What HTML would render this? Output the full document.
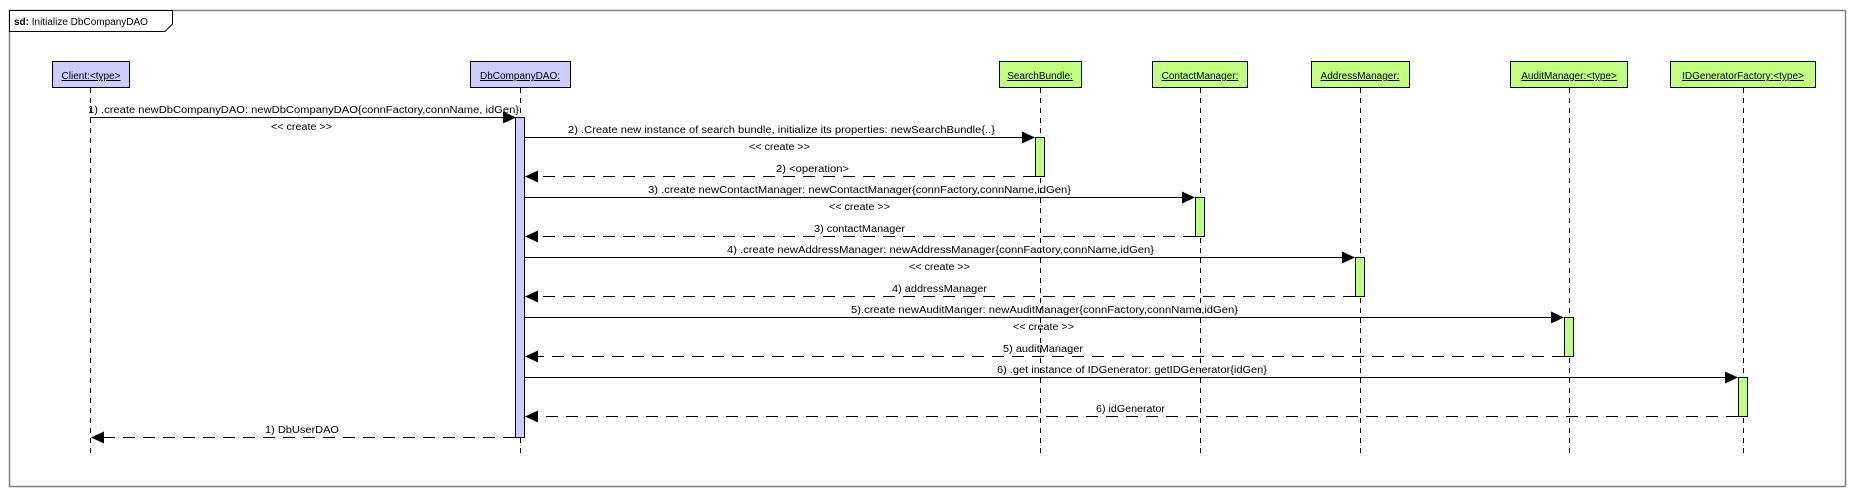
<!DOCTYPE html>
<html><head><meta charset="utf-8"><style>
html,body{margin:0;padding:0;background:#fff;}
svg{display:block;}
text{font-family:"Liberation Sans",Arial,sans-serif;font-size:10px;fill:#000;}
</style></head><body>
<svg width="1856" height="497" viewBox="0 0 1856 497" xmlns="http://www.w3.org/2000/svg">
<rect x="9.5" y="10.5" width="1836" height="476" fill="#fff" stroke="#808080" stroke-width="1.5"/>
<path d="M9.5 10.5 H172.5 V24 L165 31.5 H9.5 Z" fill="#fff" stroke="#000" stroke-width="1"/>
<text x="14" y="25"><tspan font-weight="bold">sd:</tspan> Initialize DbCompanyDAO</text>

<g stroke="#000" stroke-width="1" stroke-dasharray="5,5">
<line x1="90.5" y1="88" x2="90.5" y2="455"/>
<line x1="520.5" y1="88" x2="520.5" y2="455"/>
<line x1="1040.5" y1="88" x2="1040.5" y2="455"/>
<line x1="1200.5" y1="88" x2="1200.5" y2="455"/>
<line x1="1360.5" y1="88" x2="1360.5" y2="455"/>
<line x1="1569.5" y1="88" x2="1569.5" y2="455"/>
<line x1="1743.5" y1="88" x2="1743.5" y2="455"/>
</g>

<g stroke="#000" stroke-width="1">
<rect x="52.5" y="61.5" width="77" height="26" fill="#ccccff"/>
<rect x="470.5" y="61.5" width="100" height="26" fill="#ccccff"/>
<rect x="999.5" y="61.5" width="82" height="26" fill="#c0ff80"/>
<rect x="1152.5" y="61.5" width="95" height="26" fill="#c0ff80"/>
<rect x="1311.5" y="61.5" width="98" height="26" fill="#c0ff80"/>
<rect x="1510.5" y="61.5" width="117" height="26" fill="#c0ff80"/>
<rect x="1670.5" y="61.5" width="145" height="26" fill="#c0ff80"/>
</g>
<g text-anchor="middle">
<text x="91" y="79" text-decoration="underline">Client:&lt;type&gt;</text>
<text x="520" y="79" text-decoration="underline">DbCompanyDAO:</text>
<text x="1040" y="79" text-decoration="underline">SearchBundle:</text>
<text x="1200" y="79" text-decoration="underline">ContactManager:</text>
<text x="1360" y="79" text-decoration="underline">AddressManager:</text>
<text x="1569" y="79" text-decoration="underline">AuditManager:&lt;type&gt;</text>
<text x="1743" y="79" text-decoration="underline">IDGeneratorFactory:&lt;type&gt;</text>
</g>

<g stroke="#000" stroke-width="1">
<rect x="515.5" y="117.5" width="9" height="320" fill="#ccccff"/>
<rect x="1035.5" y="137.5" width="9" height="39" fill="#c0ff80"/>
<rect x="1195.5" y="197.5" width="9" height="39" fill="#c0ff80"/>
<rect x="1355.5" y="257.5" width="9" height="39" fill="#c0ff80"/>
<rect x="1564.5" y="317.5" width="9" height="39" fill="#c0ff80"/>
<rect x="1738.5" y="377.5" width="9" height="39" fill="#c0ff80"/>
</g>

<g stroke="#000" stroke-width="1">
<line x1="90" y1="117.5" x2="504" y2="117.5"/>
<line x1="525" y1="137.5" x2="1024" y2="137.5"/>
<line x1="525" y1="197.5" x2="1184" y2="197.5"/>
<line x1="525" y1="257.5" x2="1344" y2="257.5"/>
<line x1="525" y1="317.5" x2="1553" y2="317.5"/>
<line x1="525" y1="377.5" x2="1727" y2="377.5"/>
</g>
<g fill="#000">
<polygon points="503,111.5 516,117.5 503,123.5"/>
<polygon points="1022,131.5 1035,137.5 1022,143.5"/>
<polygon points="1182,191.5 1195,197.5 1182,203.5"/>
<polygon points="1342,251.5 1355,257.5 1342,263.5"/>
<polygon points="1551,311.5 1564,317.5 1551,323.5"/>
<polygon points="1725,371.5 1738,377.5 1725,383.5"/>
</g>

<g stroke="#000" stroke-width="1" stroke-dasharray="12,8">
<line x1="1035" y1="176.5" x2="537" y2="176.5"/>
<line x1="1195" y1="236.5" x2="537" y2="236.5"/>
<line x1="1355" y1="296.5" x2="537" y2="296.5"/>
<line x1="1564" y1="356.5" x2="537" y2="356.5"/>
<line x1="1738" y1="416.5" x2="537" y2="416.5"/>
<line x1="515" y1="437.5" x2="103" y2="437.5"/>
</g>
<g fill="#000">
<polygon points="538,170.5 525,176.5 538,182.5"/>
<polygon points="538,230.5 525,236.5 538,242.5"/>
<polygon points="538,290.5 525,296.5 538,302.5"/>
<polygon points="538,350.5 525,356.5 538,362.5"/>
<polygon points="538,410.5 525,416.5 538,422.5"/>
<polygon points="104,431.5 91,437.5 104,443.5"/>
</g>

<text x="88" y="113" textLength="431" lengthAdjust="spacingAndGlyphs">1) .create newDbCompanyDAO: newDbCompanyDAO{connFactory,connName, idGen}</text>
<text x="271" y="130" textLength="61" lengthAdjust="spacingAndGlyphs">&lt;&lt; create &gt;&gt;</text>
<text x="568" y="133" textLength="427" lengthAdjust="spacingAndGlyphs">2) .Create new instance of search bundle, initialize its properties: newSearchBundle{..}</text>
<text x="749" y="150" textLength="61" lengthAdjust="spacingAndGlyphs">&lt;&lt; create &gt;&gt;</text>
<text x="776" y="172" textLength="73" lengthAdjust="spacingAndGlyphs">2) &lt;operation&gt;</text>
<text x="648" y="193" textLength="423" lengthAdjust="spacingAndGlyphs">3) .create newContactManager: newContactManager{connFactory,connName,idGen}</text>
<text x="829" y="210" textLength="61" lengthAdjust="spacingAndGlyphs">&lt;&lt; create &gt;&gt;</text>
<text x="814" y="232" textLength="91" lengthAdjust="spacingAndGlyphs">3) contactManager</text>
<text x="727" y="253" textLength="427" lengthAdjust="spacingAndGlyphs">4) .create newAddressManager: newAddressManager{connFactory,connName,idGen}</text>
<text x="909" y="270" textLength="61" lengthAdjust="spacingAndGlyphs">&lt;&lt; create &gt;&gt;</text>
<text x="892" y="292" textLength="95" lengthAdjust="spacingAndGlyphs">4) addressManager</text>
<text x="851" y="313" textLength="387" lengthAdjust="spacingAndGlyphs">5).create newAuditManger: newAuditManager{connFactory,connName,idGen}</text>
<text x="1013" y="330" textLength="61" lengthAdjust="spacingAndGlyphs">&lt;&lt; create &gt;&gt;</text>
<text x="1003" y="352" textLength="80" lengthAdjust="spacingAndGlyphs">5) auditManager</text>
<text x="997" y="373" textLength="270" lengthAdjust="spacingAndGlyphs">6) .get instance of IDGenerator: getIDGenerator{idGen}</text>
<text x="1096" y="412" textLength="69" lengthAdjust="spacingAndGlyphs">6) idGenerator</text>
<text x="265" y="433" textLength="74" lengthAdjust="spacingAndGlyphs">1) DbUserDAO</text>
</svg>
</body></html>
